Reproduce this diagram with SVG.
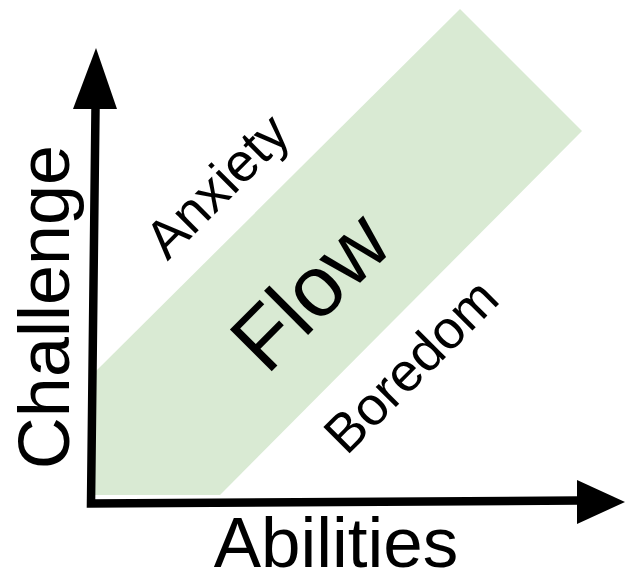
<svg xmlns="http://www.w3.org/2000/svg" width="625" height="576" viewBox="0 0 625 576">
  <style>
    .lbl { font-family: "Liberation Sans", Arial, sans-serif; fill: #000; }
    .axis { stroke: #000; stroke-width: 8.5; fill: none; }
    .head { fill: #000; }
  </style>
  <rect width="625" height="576" fill="#fff"/>
  <g id="flow-band">
    <polygon points="95,372 460,9 582,131 220,495 95,495" fill="#d9ead3"/>
  </g>
  <g id="connectors">
    <polyline class="axis" points="95.5,108 91,503.5 580,500.5" stroke-linejoin="miter"/>
    <polygon class="head" points="96,48 73,109 117,109"/>
    <polygon class="head" points="625,502 577,480 577,524"/>
  </g>
  <g id="challenge">
    <text class="lbl" font-size="72" text-anchor="middle" transform="translate(69,307) rotate(-90)">Challenge</text>
  </g>
  <g id="abilities">
    <text class="lbl" font-size="71" text-anchor="middle" x="336" y="567">Abilities</text>
  </g>
  <g id="anxiety">
    <text class="lbl" font-size="54" text-anchor="middle" transform="translate(230,199) rotate(-45)">Anxiety</text>
  </g>
  <g id="flow">
    <text class="lbl" font-size="86" text-anchor="middle" transform="translate(331,312) rotate(-45)">Flow</text>
  </g>
  <g id="boredom">
    <text class="lbl" font-size="54" text-anchor="middle" transform="translate(424,379) rotate(-45)">Boredom</text>
  </g>
</svg>
